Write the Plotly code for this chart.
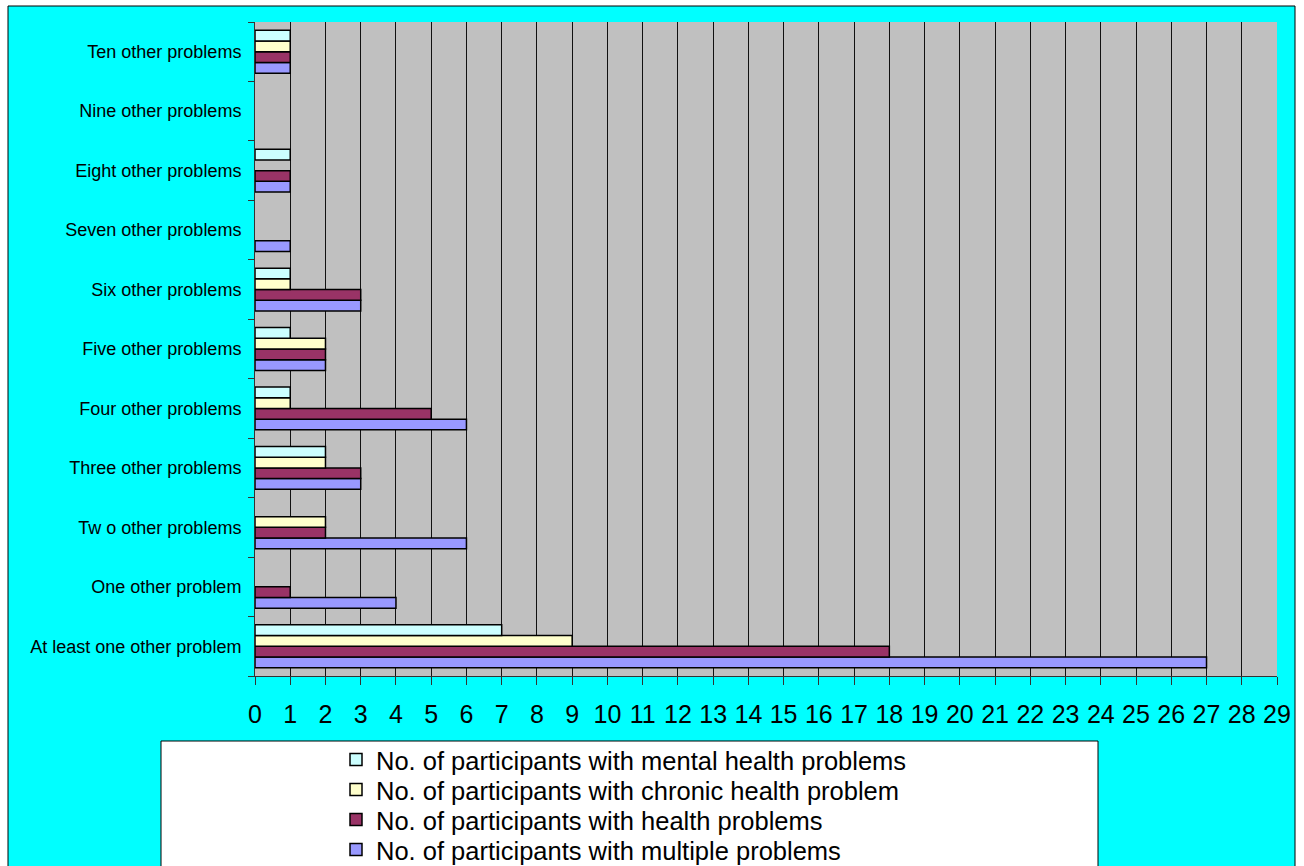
import plotly.graph_objects as go

categories = ["At least one other problem", "One other problem", "Tw o other problems",
              "Three other problems", "Four other problems", "Five other problems",
              "Six other problems", "Seven other problems", "Eight other problems",
              "Nine other problems", "Ten other problems"]

mental = [7, 0, 0, 2, 1, 1, 1, 0, 1, 0, 1]
chronic = [9, 0, 2, 2, 1, 2, 1, 0, 0, 0, 1]
health = [18, 1, 2, 3, 5, 2, 3, 0, 1, 0, 1]
multiple = [27, 4, 6, 3, 6, 2, 3, 1, 1, 0, 1]

series_names = ["No. of participants with multiple problems",
                "No. of participants with health problems",
                "No. of participants with chronic health problem",
                "No. of participants with mental health problems"]
series_values = [multiple, health, chronic, mental]
series_colors = ["#9999FF", "#993366", "#FFFFCC", "#CCFFFF"]
legend_ids = ["legend4", "legend3", "legend2", "legend"]

x_ticks = list(range(0, 30))

W, H = 1304, 866
L, R, T, B = 255, 27, 22, 190
pw = W - L - R
ph = H - T - B


def px2x(p):
    return (p - L) / pw


def py2y(p):
    return (H - B - p) / ph


fig = go.Figure()
for name, vals, col, lg in zip(series_names, series_values, series_colors, legend_ids):
    widths = [1.5 if v else 0 for v in vals]
    fig.add_trace(go.Bar(y=categories, x=vals, name=name, orientation="h", legend=lg,
                         marker=dict(color=col, line=dict(color="black", width=widths))))

shapes = [
    dict(type="rect", xref="paper", yref="paper", x0=px2x(8), x1=px2x(1295),
         y0=py2y(880), y1=py2y(6), fillcolor="#00FFFF",
         line=dict(color="black", width=1), layer="below"),
    dict(type="rect", xref="paper", yref="paper", x0=0, x1=1, y0=0, y1=1,
         fillcolor="#C0C0C0", line=dict(width=0), layer="below"),
    dict(type="rect", xref="paper", yref="paper", x0=px2x(161), x1=px2x(1098),
         y0=py2y(880), y1=py2y(741), fillcolor="white",
         line=dict(color="black", width=1), layer="below"),
]

legend_font = dict(size=25.5, family="Liberation Sans, Arial, sans-serif", color="black")
legend_rows = {"legend": 760, "legend2": 790, "legend3": 820, "legend4": 850}
legend_layout = {}
for lg, py in legend_rows.items():
    legend_layout[lg] = dict(xref="container", yref="container",
                             x=336 / W, y=1 - py / H, xanchor="left", yanchor="middle",
                             bgcolor="rgba(0,0,0,0)", borderwidth=0, font=legend_font)

fig.update_layout(
    template="none",
    width=W, height=H,
    margin=dict(l=L, r=R, t=T, b=B, pad=0, autoexpand=False),
    paper_bgcolor="white",
    plot_bgcolor="rgba(0,0,0,0)",
    barmode="group",
    bargap=0.28,
    bargroupgap=0,
    font=dict(family="Liberation Sans, Arial, sans-serif", color="black"),
    shapes=shapes,
    showlegend=True,
    xaxis=dict(range=[0, 29], tickmode="array", tickvals=x_ticks,
               ticktext=[str(v) for v in x_ticks], automargin=False,
               showgrid=True, gridcolor="#111111", gridwidth=1,
               ticks="outside", ticklen=8, tickcolor="#333333", tickwidth=1,
               showline=True, linecolor="#333333", linewidth=1,
               tickfont=dict(size=25), ticklabelstandoff=8, zeroline=False,
               fixedrange=True),
    yaxis=dict(type="category", categoryorder="array", categoryarray=categories,
               tickson="boundaries", ticks="outside", ticklen=6, tickcolor="#333333",
               showline=True, linecolor="#333333", linewidth=1, automargin=False,
               showgrid=False, tickfont=dict(size=18), ticklabelstandoff=9,
               zeroline=False, fixedrange=True),
    **legend_layout,
)

fig.write_html("out.html", config={"displayModeBar": False},
               post_script="document.body.style.margin='0px';document.body.style.overflow='hidden';")
